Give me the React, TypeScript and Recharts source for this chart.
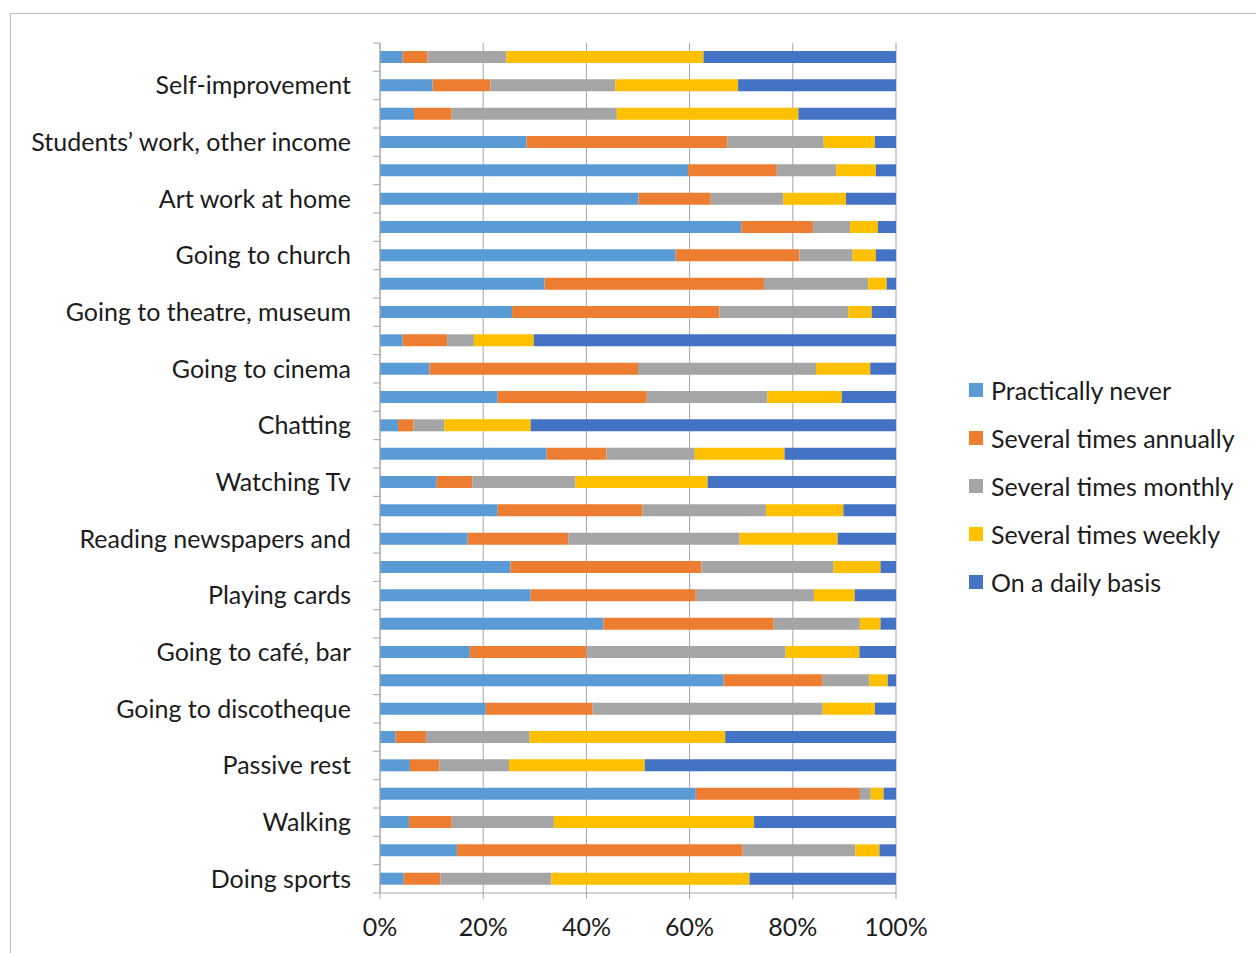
import React from "react";
import { BarChart, Bar, XAxis, YAxis, CartesianGrid, Legend } from "recharts";

// rows from top to bottom; Excel only prints every second category name
const rowLabels = [
    "", "Self-improvement", "", "Students’ work, other income", "", "Art work at home",
    "", "Going to church", "", "Going to theatre, museum", "", "Going to cinema",
    "", "Chatting", "", "Watching Tv", "", "Reading newspapers and",
    "", "Playing cards", "", "Going to café, bar", "", "Going to discotheque",
    "", "Passive rest", "", "Walking", "", "Doing sports",
];

const neverVals = [4.4, 10.2, 6.6, 28.4, 59.7, 50.1, 70.0, 57.3, 31.9, 25.6, 4.4, 9.6, 22.8, 3.5, 32.3, 11.0, 22.8, 17.0, 25.3, 29.2, 43.3, 17.4, 66.6, 20.5, 3.0, 5.8, 61.2, 5.6, 14.9, 4.6];
const annualVals = [4.8, 11.2, 7.3, 38.9, 17.2, 14.0, 13.9, 24.0, 42.5, 40.2, 8.6, 40.4, 28.9, 3.0, 11.6, 6.9, 28.1, 19.5, 37.0, 32.0, 33.0, 22.6, 19.2, 20.7, 5.9, 5.7, 31.8, 8.3, 55.4, 7.1];
const monthlyVals = [15.3, 24.2, 32.0, 18.7, 11.5, 14.1, 7.2, 10.3, 20.2, 25.0, 5.2, 34.5, 23.4, 6.0, 17.1, 20.0, 23.9, 33.2, 25.6, 22.9, 16.7, 38.6, 9.0, 44.6, 20.1, 13.5, 2.1, 19.8, 21.8, 21.5];
const weeklyVals = [38.2, 23.8, 35.2, 9.9, 7.7, 12.1, 5.4, 4.5, 3.6, 4.5, 11.6, 10.5, 14.4, 16.7, 17.4, 25.6, 15.0, 19.0, 9.1, 7.9, 4.0, 14.3, 3.6, 10.1, 37.9, 26.3, 2.5, 38.8, 4.7, 38.4];
const dailyVals = [37.3, 30.6, 18.9, 4.1, 3.9, 9.7, 3.5, 3.9, 1.8, 4.7, 70.2, 5.0, 10.5, 70.8, 21.6, 36.5, 10.2, 11.3, 3.0, 8.0, 3.0, 7.1, 1.6, 4.1, 33.1, 48.7, 2.4, 27.5, 3.2, 28.4];

const xTicks = [0, 0.2, 0.4, 0.6, 0.8, 1];

const series = [
    { key: "never", name: "Practically never", color: "#5B9BD5" },
    { key: "annual", name: "Several times annually", color: "#ED7D31" },
    { key: "monthly", name: "Several times monthly", color: "#A5A5A5" },
    { key: "weekly", name: "Several times weekly", color: "#FFC000" },
    { key: "daily", name: "On a daily basis", color: "#4472C4" },
];

const data = rowLabels.map((label, i) => ({
    id: `r${i}`,
    label,
    never: neverVals[i],
    annual: annualVals[i],
    monthly: monthlyVals[i],
    weekly: weeklyVals[i],
    daily: dailyVals[i],
}));

const FONT = "Lato, 'Open Sans', sans-serif";
const FONT_SIZE = 25;
const TEXT = "#1c1c1c";
const AXIS = "#A6A6A6";
const PLOT_H = 850;
const BAND = PLOT_H / rowLabels.length;
const LABEL_GAP = 29;

const CategoryTick = (props: any) => {
    const { x, y, index } = props;
    const ax = x + LABEL_GAP;
    const top = y - BAND / 2;
    return (
        <g>
            <line x1={ax - 7} x2={ax} y1={top} y2={top} stroke={AXIS} />
            {index === rowLabels.length - 1 && (
                <line x1={ax - 7} x2={ax} y1={y + BAND / 2} y2={y + BAND / 2} stroke={AXIS} />
            )}
            <text x={x} y={y} dy="0.355em" textAnchor="end" fontFamily={FONT} fontSize={FONT_SIZE} fill={TEXT}>
                {rowLabels[index]}
            </text>
        </g>
    );
};

// legend drawn in series order (recharts would sort it by name)
const renderLegend = () => (
    <div style={{ fontFamily: FONT, fontSize: FONT_SIZE, color: TEXT }}>
        {series.map((s) => (
            <div key={s.key} style={{ display: "flex", alignItems: "center", height: 48 }}>
                <span style={{ width: 14, height: 14, background: s.color, marginRight: 8, display: "inline-block" }} />
                <span>{s.name}</span>
            </div>
        ))}
    </div>
);

const App = () => {
    return (
        <div style={{ position: "absolute", left: 0, top: 0, width: 1256, height: 953, overflow: "hidden", background: "#fff" }}>
            {/* chart frame, cropped at the right and bottom */}
            <div style={{ position: "absolute", left: 10, top: 13, width: 1300, height: 1000, borderLeft: "1px solid #BFBFBF", borderTop: "1px solid #BFBFBF" }} />
            <div style={{ position: "absolute", left: 0, top: 0 }}>
                <BarChart
                    width={1256}
                    height={953}
                    data={data}
                    layout="vertical"
                    stackOffset="expand"
                    barSize={12}
                    margin={{ top: 43, right: 360, bottom: 10, left: 0 }}
                >
                    <CartesianGrid horizontal={false} vertical stroke={AXIS} />
                    <XAxis
                        type="number"
                        domain={[0, 1]}
                        ticks={xTicks}
                        tickFormatter={(v: number) => `${Math.round(v * 100)}%`}
                        height={50}
                        tickSize={6}
                        tickMargin={19}
                        axisLine={{ stroke: AXIS }}
                        tickLine={{ stroke: AXIS }}
                        tick={{ fontFamily: FONT, fontSize: FONT_SIZE, fill: TEXT }}
                    />
                    <YAxis
                        type="category"
                        dataKey="id"
                        width={380}
                        interval={0}
                        tickSize={0}
                        tickMargin={LABEL_GAP}
                        tickLine={false}
                        axisLine={{ stroke: AXIS }}
                        tick={<CategoryTick />}
                    />
                    <Legend
                        layout="vertical"
                        verticalAlign="middle"
                        align="center"
                        content={renderLegend}
                        wrapperStyle={{ left: 969, top: 366, width: 287 }}
                    />
                    {series.map((s) => (
                        <Bar key={s.key} dataKey={s.key} name={s.name} stackId="a" fill={s.color} isAnimationActive={false} />
                    ))}
                </BarChart>
            </div>
        </div>
    );
};

export default App;
